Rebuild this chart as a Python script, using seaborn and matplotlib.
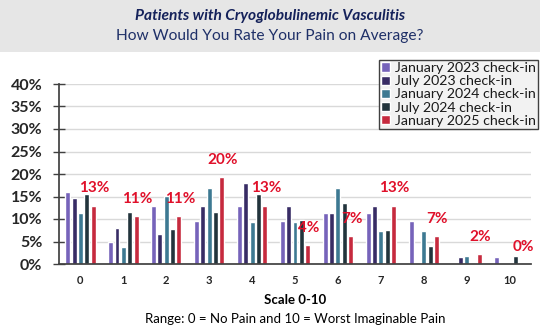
import matplotlib
matplotlib.use("Agg")
import matplotlib.pyplot as plt
import seaborn as sns
import pandas as pd
import numpy as np

categories = ["0", "1", "2", "3", "4", "5", "6", "7", "8", "9", "10"]
series_names = ["January 2023 check-in", "July 2023 check-in", "January 2024 check-in",
                "July 2024 check-in", "January 2025 check-in"]
jan_2023 = [16.0, 4.8, 12.9, 9.6, 12.8, 9.6, 11.3, 11.3, 9.6, 0.0, 1.6]
jul_2023 = [14.7, 8.1, 6.6, 13.0, 17.9, 13.0, 11.3, 13.0, 0.0, 1.6, 0.0]
jan_2024 = [11.3, 3.7, 15.1, 16.8, 9.3, 9.3, 16.8, 7.4, 7.4, 1.7, 0.0]
jul_2024 = [15.6, 11.6, 7.7, 11.6, 15.6, 9.7, 13.5, 7.6, 3.9, 0.0, 1.7]
jan_2025 = [13.0, 10.7, 10.7, 19.4, 13.0, 4.2, 6.3, 13.0, 6.3, 2.2, 0.0]
red_labels = ["13%", "11%", "11%", "20%", "13%", "4%", "7%", "13%", "7%", "2%", "0%"]
colors = ["#6e55c8", "#32236e", "#2f7fa0", "#1e3640", "#e0102a"]

rows = []
for name, vals in zip(series_names, [jan_2023, jul_2023, jan_2024, jul_2024, jan_2025]):
    for c, v in zip(categories, vals):
        rows.append({"cat": c, "series": name, "val": v / 100.0})
df = pd.DataFrame(rows)

sns.set_theme(style="white")
plt.rcParams["font.family"] = ["Lato", "DejaVu Sans"]

fig = plt.figure(figsize=(5.4, 3.31), dpi=100)
# grey title band
fig.patches.append(plt.Rectangle((0, 1 - 52 / 331), 1, 52 / 331, transform=fig.transFigure,
                                 facecolor="#e6e6e6", edgecolor="none", zorder=0))
fig.text(0.5, 1 - 16 / 331, "Patients with Cryoglobulinemic Vasculitis", ha="center", va="center",
         fontsize=11.2, fontweight="bold", fontstyle="italic", color="#14215a")
fig.text(0.5, 1 - 36 / 331, "How Would You Rate Your Pain on Average?", ha="center", va="center",
         fontsize=11.2, color="#1f3068")

ax = fig.add_axes([59 / 540, 1 - 264 / 331, (531 - 59) / 540, (264 - 84) / 331])
sns.barplot(data=df, x="cat", y="val", hue="series", palette=colors, ax=ax,
            width=0.74, gap=0.22, order=categories, hue_order=series_names, legend=True)

ax.set_ylim(0, 0.40)
ax.set_yticks(np.arange(0, 0.41, 0.05))
ax.set_yticklabels([f"{int(round(t*100))}%" for t in np.arange(0, 0.41, 0.05)])
ax.yaxis.grid(True, color="#d9d9d9", linewidth=1)
ax.set_axisbelow(True)
for s in ["top", "right"]:
    ax.spines[s].set_visible(False)
ax.spines["left"].set_color("#404040")
ax.spines["bottom"].set_color("#404040")
ax.tick_params(axis="y", direction="inout", length=9, width=1, color="#404040", pad=7.5,
               labelsize=11.5, left=True)
ax.tick_params(axis="x", length=0, pad=8, labelsize=8)
for t in ax.get_yticklabels():
    t.set_fontweight("bold")
for t in ax.get_xticklabels():
    t.set_fontweight("bold")
ax.set_xlabel("")
ax.set_ylabel("")

# red data labels
red_container = ax.containers[-1]
for bar, lab in zip(red_container, red_labels):
    x = bar.get_x() + bar.get_width() / 2
    y = bar.get_height()
    ax.annotate(lab, (x, y), xytext=(1, 17), textcoords="offset pixels", ha="center", va="center",
                fontsize=11, fontweight="bold", color="#e0102a")

cx = (59 + 531) / 2 / 540
fig.text(cx, 1 - 300 / 331, "Scale 0-10", ha="center", va="center",
         fontsize=9.5, fontweight="bold", color="black")
fig.text(cx, 1 - 319 / 331,
         "Range: 0 = No Pain and 10 = Worst Imaginable Pain", ha="center", va="center",
         fontsize=9.5, color="black")

leg = ax.legend(loc="upper left", bbox_to_anchor=(379 / 540, 1 - 60 / 331),
                bbox_transform=fig.transFigure, frameon=True, fancybox=False,
                facecolor="#f2f2f2", edgecolor="#404040", framealpha=1, fontsize=10.2,
                handlelength=0.65, handleheight=0.65, handletextpad=0.3, labelspacing=0.08,
                borderpad=0.15, borderaxespad=0)
leg.get_frame().set_linewidth(1)
for t in leg.get_texts():
    t.set_color("#1a1a1a")

fig.savefig("out.png", dpi=100)
